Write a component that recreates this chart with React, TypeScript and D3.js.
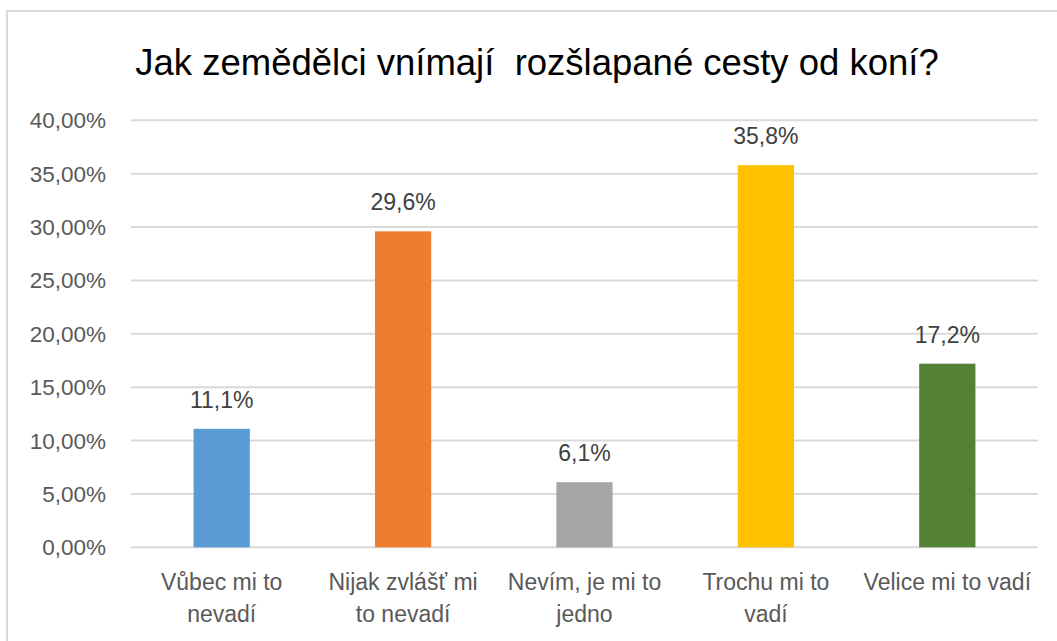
import React from "react";
import * as d3 from "d3";

const title = "Jak zemědělci vnímají  rozšlapané cesty od koní?";
const categories = [
  "Vůbec mi to nevadí",
  "Nijak zvlášť mi to nevadí",
  "Nevím, je mi to jedno",
  "Trochu mi to vadí",
  "Velice mi to vadí",
];
const categoryLines = [
  ["Vůbec mi to", "nevadí"],
  ["Nijak zvlášť mi", "to nevadí"],
  ["Nevím, je mi to", "jedno"],
  ["Trochu mi to", "vadí"],
  ["Velice mi to vadí"],
];
const values = [0.111, 0.296, 0.061, 0.358, 0.172];
const valueLabels = ["11,1%", "29,6%", "6,1%", "35,8%", "17,2%"];
const colors = ["#5B9BD5", "#ED7D31", "#A5A5A5", "#FFC000", "#548235"];
const ticks = [0, 0.05, 0.1, 0.15, 0.2, 0.25, 0.3, 0.35, 0.4];

const W = 1057;
const H = 641;
const FONT = "'Liberation Sans', Arial, sans-serif";

export default function App() {
  const x = d3
    .scaleBand<string>()
    .domain(categories)
    .range([131, 1038])
    .paddingInner(0.69)
    .paddingOuter(0.345);
  const y = d3.scaleLinear().domain([0, 0.4]).range([547.3, 120.3]);
  const fmt = (v: number) => (v * 100).toFixed(2).replace(".", ",") + "%";

  return (
    <svg
      width={W}
      height={H}
      style={{ position: "absolute", left: 0, top: 0, background: "#fff" }}
      fontFamily={FONT}
    >
      <rect x={0} y={0} width={W} height={H} fill="#fff" />
      <rect x={7} y={11} width={1080} height={700} fill="#fff" stroke="#d9d9d9" strokeWidth={2} />
      <text
        x={537}
        y={75}
        textAnchor="middle"
        fontSize={36.5}
        fill="#000"
        style={{ whiteSpace: "pre" }}
      >
        {title}
      </text>
      {ticks.map((t) => (
        <g key={t}>
          <line x1={131} x2={1038} y1={y(t)} y2={y(t)} stroke="#d9d9d9" strokeWidth={2} />
          <text x={106} y={y(t) + 8} textAnchor="end" fontSize={22.5} fill="#595959">
            {fmt(t)}
          </text>
        </g>
      ))}
      {categories.map((c, i) => {
        const bx = x(c)!;
        const bw = x.bandwidth();
        const cx = bx + bw / 2;
        return (
          <g key={c}>
            <rect x={bx} y={y(values[i])} width={bw} height={y(0) - y(values[i])} fill={colors[i]} />
            <text x={cx} y={y(values[i]) - 21} textAnchor="middle" fontSize={23} fill="#404040">
              {valueLabels[i]}
            </text>
            {categoryLines[i].map((ln, j) => (
              <text key={j} x={cx} y={590 + j * 32} textAnchor="middle" fontSize={23} fill="#595959">
                {ln}
              </text>
            ))}
          </g>
        );
      })}
    </svg>
  );
}
